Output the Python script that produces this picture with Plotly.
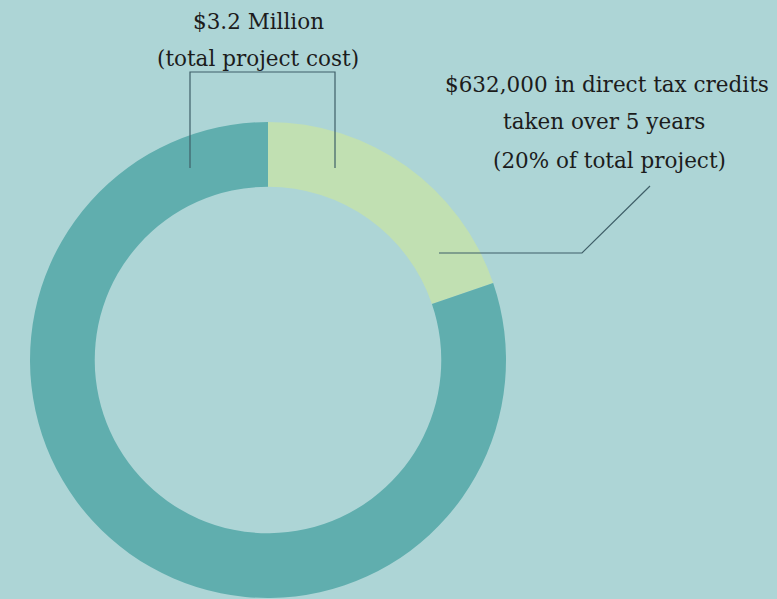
import plotly.graph_objects as go

# Project funding split
segments = ["Direct tax credits", "Remaining project cost"]
amounts = [632000, 2568000]
colors = ["#c1e0b2", "#60aeae"]

W, H = 777, 599
BG = "#add5d6"
INK = "#1c1c1c"
LINE = "#3f5f68"
FONT = "DejaVu Serif"


def px(x):
    return x / W


def py(y):
    return 1 - y / H


fig = go.Figure(
    go.Pie(
        labels=segments,
        values=amounts,
        sort=False,
        direction="clockwise",
        rotation=0,
        hole=0.728,
        marker=dict(colors=colors, line=dict(width=0)),
        textinfo="none",
        hoverinfo="label+value",
        showlegend=False,
        domain=dict(x=[px(30), px(506)], y=[py(598), py(122)]),
    )
)

# Callout lines
shape_style = dict(type="path", xref="paper", yref="paper",
                   line=dict(color=LINE, width=1.2))
bracket = (f"M {px(190)},{py(168)} L {px(190)},{py(72)} "
           f"L {px(335)},{py(72)} L {px(335)},{py(168)}")
pointer = (f"M {px(439)},{py(253)} L {px(582)},{py(253)} "
           f"L {px(650)},{py(186)}")
fig.add_shape(path=bracket, **shape_style)
fig.add_shape(path=pointer, **shape_style)

# Callout text, one annotation per line
text_lines = [
    ("$3.2 Million", 258, 22),
    ("(total project cost)", 258, 58),
    ("$632,000 in direct tax credits", 607, 85),
    ("taken over 5 years", 604, 122),
    ("(20% of total project)", 609, 160),
]
for txt, x, y in text_lines:
    fig.add_annotation(
        text=txt, x=px(x), y=py(y), xref="paper", yref="paper",
        xanchor="center", yanchor="middle", showarrow=False,
        font=dict(family=FONT, size=21.5, color=INK),
    )

fig.update_layout(
    width=W, height=H,
    margin=dict(l=0, r=0, t=0, b=0),
    paper_bgcolor=BG, plot_bgcolor=BG,
)

fig.write_html("out.html")
